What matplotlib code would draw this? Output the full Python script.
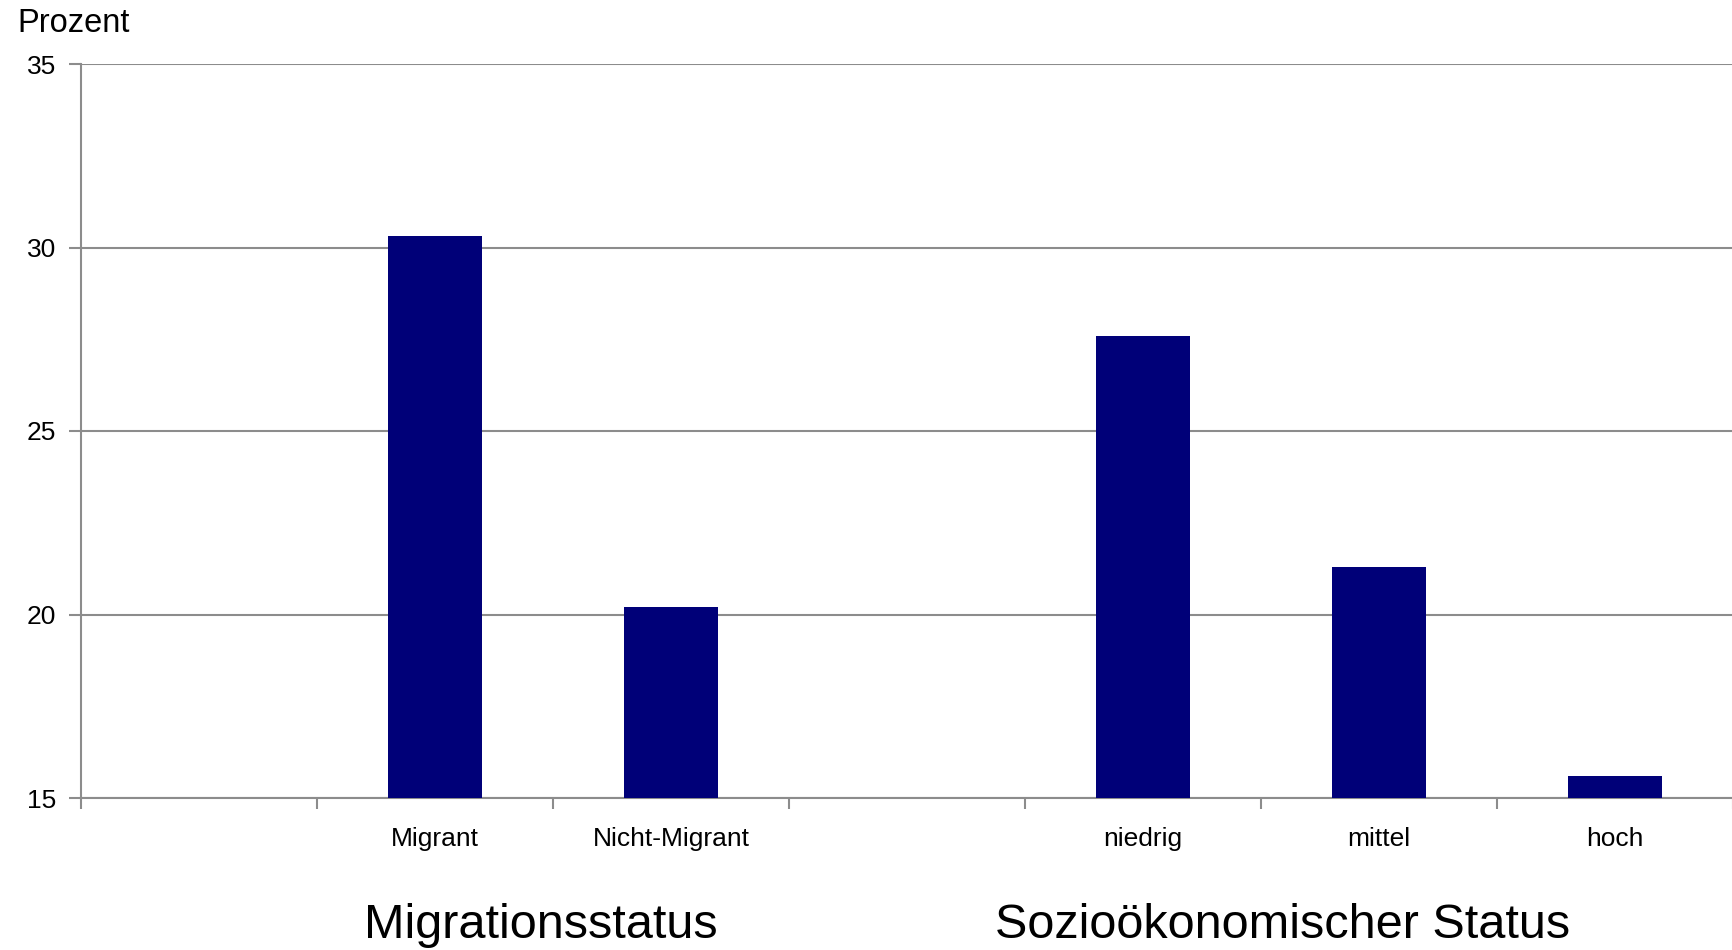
import matplotlib
matplotlib.use("Agg")
import matplotlib.pyplot as plt

plt.rcParams['font.family'] = ['Liberation Sans', 'DejaVu Sans']

# Category slots along the x axis (empty slots separate the two groups)
categories = ["", "Migrant", "Nicht-Migrant", "", "niedrig", "mittel", "hoch"]
values = [None, 30.3, 20.2, None, 27.6, 21.3, 15.6]
y_ticks = [15, 20, 25, 30, 35]
group_labels = ["Migrationsstatus", "Sozioökonomischer Status"]
group_positions = [1.45, 4.59]

W, H = 1733, 950
fig = plt.figure(figsize=(W / 100, H / 100), dpi=100)
ax = fig.add_axes([81 / W, 1 - 798 / H, (W - 81) / W, (798 - 64) / H])

grey = "#8c8c8c"
bar_color = "#000078"

xs = [i for i, v in enumerate(values) if v is not None]
hs = [v for v in values if v is not None]
ax.bar(xs, [h - 15 for h in hs], bottom=15, width=0.4, color=bar_color, zorder=3)

ax.set_xlim(-0.5, len(categories) - 0.5)
ax.set_ylim(15, 35)
ax.set_yticks(y_ticks)
ax.set_yticklabels([str(t) for t in y_ticks], fontsize=19)
ax.yaxis.grid(True, color=grey, linewidth=1.5, zorder=0)

# Category labels at slot centers, tick marks at slot boundaries
ax.set_xticks(range(len(categories)))
ax.set_xticklabels(categories, fontsize=19)
ax.tick_params(axis='x', length=0, pad=21)
ax.set_xticks([i - 0.5 for i in range(len(categories) + 1)], minor=True)
ax.tick_params(axis='x', which='minor', length=8, width=1.5, color=grey)
ax.tick_params(axis='y', length=9, width=1.5, color=grey, pad=9)

for side in ['top', 'right']:
    ax.spines[side].set_visible(False)
for side in ['left', 'bottom']:
    ax.spines[side].set_color(grey)
    ax.spines[side].set_linewidth(1.5)

fig.text(17 / W, 1 - 23 / H, "Prozent", fontsize=23.5, ha='left', va='center')

group_y = -(925 - 798) / (798 - 64)
for label, pos in zip(group_labels, group_positions):
    ax.text(pos, group_y, label, transform=ax.get_xaxis_transform(), fontsize=35,
            ha='center', va='center')

fig.savefig("out.png", dpi=100)
